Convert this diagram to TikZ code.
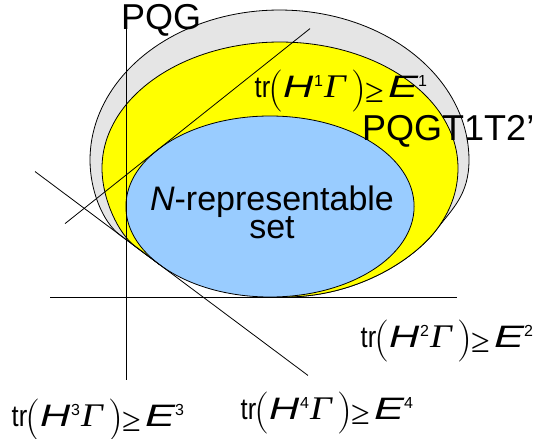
\documentclass[tikz,border=0pt]{standalone}
\usepackage{graphicx}
\usepackage{fontspec}
\setmainfont{Liberation Sans}
\newfontfamily\tnr{Liberation Serif}
\definecolor{pqgcol}{RGB}{229,229,229}
\definecolor{pqgtcol}{RGB}{255,255,0}
\definecolor{nrepcol}{RGB}{153,204,255}
\newcommand\pl[2]{\rlap{\kern#1pt\relax #2}}
\newcommand\lmparen[1]{\raisebox{-4.5pt}{\fontfamily{lmr}\fontsize{42}{42}\selectfont #1}}
\newcommand\supn[1]{\raisebox{10.2pt}{\fontsize{16}{16}\selectfont #1}}
\newcommand\ineq[1]{\fontsize{30}{30}\selectfont
  \pl{-0.5}{\scalebox{0.85}[1]{tr}}%
  \pl{13.3}{\lmparen{(}}%
  \pl{28}{\scalebox{1.35}[1]{\fontsize{31}{31}\selectfont\itshape H}}%
  \pl{59}{\supn{#1}}%
  \pl{69}{\scalebox{1.15}[1]{\tnr\itshape\fontsize{33}{33}\selectfont Γ}}%
  \pl{96.3}{\lmparen{)}}%
  \pl{110}{\raisebox{-5pt}{\tnr\fontsize{34}{34}\selectfont ≥}}%
  \pl{133}{\scalebox{1.45}[1]{\fontsize{31}{31}\selectfont\itshape E}}%
  \pl{163}{\supn{#1}}%
  \hbox to 180pt{}}
\newcommand\graypath{(T4) -- (120,235.02) .. controls (102.4,221.85) and (90,190) .. (90,160) -- plot[domain=180:360,samples=90,variable=\t] ({279.5+189.5*cos(\t)},{160+150*sin(\t)}) .. controls (469,195) and (452,209) .. (M) .. controls (413,261) and (355,297) .. (B)}
\newcommand\yellowpath{(T4) -- (135,246.23) .. controls (118.98,234.25) and (102,200) .. (102,168) -- plot[domain=180:360,samples=90,variable=\t] ({280+178*cos(\t)},{168+126*sin(\t)}) .. controls (458,193) and (449,213) .. (M) .. controls (413,261) and (355,297) .. (B)}
\begin{document}
\begin{tikzpicture}[x=1pt,y=-1pt,
  outl/.style={draw=black, line width=0.8pt},
  lbl/.style={inner sep=0pt, anchor=base west, font=\fontsize{36}{36}\selectfont},
  setlbl/.style={inner sep=0pt, anchor=base, font=\fontsize{34}{34}\selectfont},
  ineqlbl/.style={inner sep=0pt, anchor=base west},
  constraint/.style={draw=black, line width=0.8pt}]
\useasboundingbox (0,0) rectangle (544,439);
\coordinate (T4) at (159.81,264.76);
\coordinate (B) at (285,297);
\coordinate (M) at (437,229);
% PQG set
\fill[pqgcol] \graypath -- cycle;
\draw[outl] \graypath;
% PQGT1T2' set
\fill[pqgtcol] \yellowpath -- cycle;
\draw[outl] \yellowpath;
% N-representable set
\path[outl, fill=nrepcol] (270,206.5) ellipse[x radius=144.1, y radius=90.5];
% constraint lines
\coordinate (h1a) at (65,223.63);
\coordinate (h1b) at (310,28.61);
\coordinate (h4a) at (35,171.53);
\coordinate (h4b) at (308,375.46);
\coordinate (va) at (125.9,27);
\coordinate (vb) at (125.9,380);
\coordinate (ha) at (50,297);
\coordinate (hb) at (457,297);
\draw[constraint] (h1a) -- (h1b);
\draw[constraint] (h4a) -- (h4b);
\draw[constraint] (va) -- (vb);
\draw[constraint] (ha) -- (hb);
% labels
\node[lbl] (pqg) at (121,29.5) {PQG};
\node[lbl] (pqgt) at (362,140) {PQGT1T2'};
\node[setlbl] (nrep) at (272,210) {\textit{N}-representable};
\node[setlbl] (nset) at (272,238) {set};
\node[ineqlbl] (c1) at (255,97) {\ineq{1}};
\node[ineqlbl] (c2) at (361,347) {\ineq{2}};
\node[ineqlbl] (c3) at (12,426) {\ineq{3}};
\node[ineqlbl] (c4) at (241,419) {\ineq{4}};
\end{tikzpicture}
\end{document}
